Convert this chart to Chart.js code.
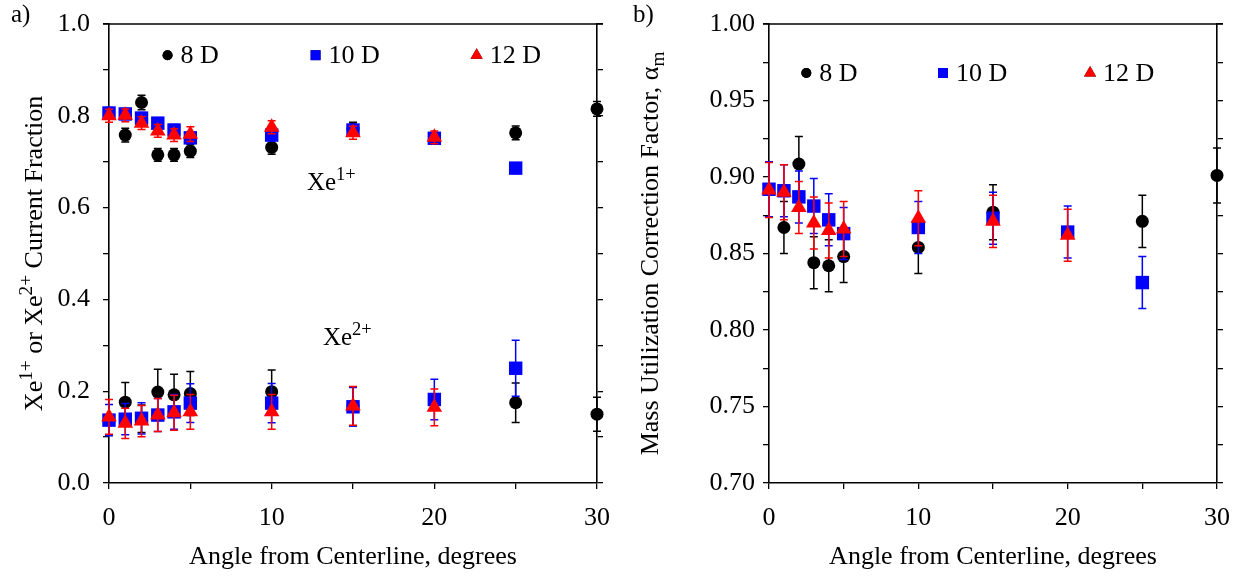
<!DOCTYPE html>
<html>
<head>
<meta charset="utf-8">
<script src="https://cdn.jsdelivr.net/npm/chart.js@4.4.0/dist/chart.umd.min.js"></script>
<style>
  html, body { margin: 0; background: #fff; overflow: hidden; }
  #wrap { position: relative; width: 1241px; height: 578px; overflow: hidden; }
  .panel { position: absolute; top: 0; height: 578px; }
  #pa { left: 0; width: 627px; }
  #pb { left: 620px; width: 627px; }
</style>
</head>
<body>
<div id="wrap">
  <div class="panel" id="pa"><canvas id="chartA"></canvas></div>
  <div class="panel" id="pb"><canvas id="chartB"></canvas></div>
</div>
<script>
// angles (degrees) where each series has a measurement
const angles8 = [1, 2, 3, 4, 5, 10, 15, 25, 30];
const angles10 = [0, 1, 2, 3, 4, 5, 10, 15, 20, 25];
const angles12 = [0, 1, 2, 3, 4, 5, 10, 15, 20];

// panel a) Xe1+ current fraction
const xe1_8D = [0.758, 0.829, 0.715, 0.715, 0.723, 0.731, 0.771, 0.763, 0.815];
const xe1_8D_err = [0.015, 0.016, 0.014, 0.014, 0.014, 0.015, 0.015, 0.015, 0.016];
const xe1_10D = [0.806, 0.804, 0.795, 0.784, 0.769, 0.752, 0.758, 0.769, 0.751, 0.686];
const xe1_10D_err = [0.012, 0.012, 0.012, 0.012, 0.012, 0.012, 0.012, 0.012, 0.012, 0.010];
const xe1_12D = [0.800, 0.801, 0.784, 0.767, 0.758, 0.760, 0.775, 0.763, 0.753];
const xe1_12D_err = [0.014, 0.014, 0.014, 0.014, 0.014, 0.016, 0.014, 0.014, 0.014];

// panel a) Xe2+ current fraction
const xe2_8D = [0.176, 0.140, 0.198, 0.192, 0.195, 0.199, 0.167, 0.175, 0.150];
const xe2_8D_err = [0.043, 0.030, 0.050, 0.045, 0.048, 0.047, 0.042, 0.043, 0.037];
const xe2_10D = [0.137, 0.139, 0.141, 0.148, 0.155, 0.174, 0.174, 0.166, 0.182, 0.250];
const xe2_10D_err = [0.034, 0.034, 0.034, 0.036, 0.038, 0.042, 0.043, 0.042, 0.044, 0.061];
const xe2_12D = [0.144, 0.130, 0.135, 0.148, 0.153, 0.155, 0.155, 0.168, 0.165];
const xe2_12D_err = [0.038, 0.033, 0.034, 0.036, 0.038, 0.038, 0.038, 0.042, 0.040];

// panel b) mass utilization correction factor
const alpha_8D = [0.867, 0.9085, 0.844, 0.842, 0.848, 0.854, 0.877, 0.871, 0.901];
const alpha_8D_err = [0.017, 0.018, 0.017, 0.017, 0.017, 0.017, 0.018, 0.017, 0.018];
const alpha_10D = [0.892, 0.891, 0.887, 0.881, 0.872, 0.863, 0.867, 0.873, 0.864, 0.831];
const alpha_10D_err = [0.018, 0.017, 0.017, 0.018, 0.017, 0.017, 0.017, 0.017, 0.017, 0.017];
const alpha_12D = [0.8915, 0.890, 0.880, 0.870, 0.865, 0.866, 0.873, 0.871, 0.862];
const alpha_12D_err = [0.018, 0.018, 0.017, 0.017, 0.018, 0.018, 0.018, 0.017, 0.017];

const seriesNames = ['8 D', '10 D', '12 D'];

const SERIF = "'Liberation Serif', 'Times New Roman', serif";
const BLACK = '#000000';
const BLUE = '#0000ff';
const RED = '#ff0000';

const styles = {
  '8 D': { color: BLACK, pointStyle: 'circle', radius: 6.5, order: 2 },
  '10 D': { color: BLUE, pointStyle: 'rect', radius: 9.5, order: 1 },
  '12 D': { color: RED, pointStyle: 'triangle', radius: 9, order: 0 }
};

function series(name, xs, ys, errs) {
  const st = styles[name];
  return {
    label: name,
    data: xs.map((x, i) => ({ x: x, y: ys[i] })),
    errors: errs,
    pointStyle: st.pointStyle,
    pointRadius: st.radius,
    pointBackgroundColor: st.color,
    pointBorderColor: st.color,
    pointBorderWidth: 0,
    order: st.order,
    clip: false,
    showLine: false
  };
}

// draws text made of normal / superscript / subscript pieces
function drawRich(ctx, parts, x, y, size, center) {
  const sz = p => (p.s ? size * 0.74 : size);
  const widths = parts.map(p => {
    ctx.font = sz(p) + 'px ' + SERIF;
    return ctx.measureText(p.t).width;
  });
  const total = widths.reduce((a, b) => a + b, 0);
  let cx = center ? x - total / 2 : x;
  parts.forEach((p, i) => {
    ctx.font = sz(p) + 'px ' + SERIF;
    let dy = 0;
    if (p.s === 'sup') dy = -size * 0.4;
    if (p.s === 'sub') dy = size * 0.22;
    ctx.fillText(p.t, cx, y + dy);
    cx += widths[i];
  });
}

const errorBars = {
  id: 'errorBars',
  beforeDatasetDraw(chart, args) {
    const ds = chart.data.datasets[args.index];
    if (!ds.errors) return;
    const ctx = chart.ctx;
    const xs = chart.scales.x, ys = chart.scales.y;
    ctx.save();
    ctx.strokeStyle = ds.pointBackgroundColor;
    ctx.lineWidth = 1.5;
    ds.data.forEach((p, i) => {
      const e = ds.errors[i];
      const px = xs.getPixelForValue(p.x);
      const top = ys.getPixelForValue(p.y + e);
      const bot = ys.getPixelForValue(p.y - e);
      ctx.beginPath();
      ctx.moveTo(px, top); ctx.lineTo(px, bot);
      ctx.moveTo(px - 4, top); ctx.lineTo(px + 4, top);
      ctx.moveTo(px - 4, bot); ctx.lineTo(px + 4, bot);
      ctx.stroke();
    });
    ctx.restore();
  }
};

function decorations(cfg) {
  return {
    id: 'deco',
    afterDraw(chart) {
      const ctx = chart.ctx;
      const a = chart.chartArea;
      const xs = chart.scales.x, ys = chart.scales.y;
      ctx.save();
      ctx.fillStyle = '#000';
      // top frame line
      ctx.strokeStyle = '#000';
      ctx.lineWidth = 1.6;
      ctx.beginPath();
      ctx.moveTo(a.left - 6, a.top);
      ctx.lineTo(a.right + 6, a.top);
      ctx.stroke();

      // panel letter
      ctx.textBaseline = 'middle';
      ctx.textAlign = 'left';
      ctx.font = '25px ' + SERIF;
      ctx.fillText(cfg.letter, cfg.letterX, 15);

      // x title
      ctx.textAlign = 'center';
      ctx.font = '26px ' + SERIF;
      ctx.fillText('Angle from Centerline, degrees', (a.left + a.right) / 2, cfg.xTitleY);

      // y title, rotated
      ctx.save();
      ctx.translate(cfg.yTitleX, (a.top + a.bottom) / 2);
      ctx.rotate(-Math.PI / 2);
      ctx.textAlign = 'left';
      ctx.textBaseline = 'alphabetic';
      drawRich(ctx, cfg.yTitle, 0, 0, 26, true);
      ctx.restore();

      // legend
      ctx.textAlign = 'left';
      ctx.textBaseline = 'middle';
      seriesNames.forEach((name, i) => {
        const st = styles[name];
        const px = xs.getPixelForValue(cfg.legendX[i]);
        const py = ys.getPixelForValue(cfg.legendY);
        Chart.helpers.drawPoint(ctx, {
          pointStyle: st.pointStyle,
          radius: st.pointStyle === 'circle' ? 5 : 7,
          borderWidth: 0
        }, px, py);
        ctx.fillStyle = st.color;
        ctx.fill();
        ctx.fillStyle = '#000';
        ctx.font = '26px ' + SERIF;
        ctx.fillText(name, px + 13, py + 1);
      });

      // text labels inside the plot
      ctx.textBaseline = 'alphabetic';
      (cfg.notes || []).forEach(n => {
        drawRich(ctx, n.parts, xs.getPixelForValue(n.x), ys.getPixelForValue(n.y), 25, false);
      });
      ctx.restore();
    }
  };
}

function axisOptions(yMin, yMax, yStep, yLabel, yw, yPad, rw) {
  const font = { family: SERIF, size: 26 };
  const yFont = { family: SERIF, size: 26, lineHeight: 0.7 };
  const grid = { drawOnChartArea: false, drawTicks: true, tickLength: 6, color: '#000', lineWidth: 1.3 };
  const border = { color: '#000', width: 1.6 };
  return {
    x: {
      type: 'linear', min: 0, max: 30, position: 'bottom',
      ticks: { stepSize: 5, autoSkip: false, maxRotation: 0, padding: 14, color: '#000', font: font,
        callback: v => (v % 10 === 0 ? String(v) : '') },
      grid: grid, border: border,
      afterFit: s => { s.height = 95; }
    },
    y: {
      type: 'linear', min: yMin, max: yMax, position: 'left',
      ticks: { stepSize: yStep, autoSkip: false, padding: yPad, color: '#000', font: yFont, callback: yLabel },
      grid: grid, border: border,
      afterFit: s => { s.width = yw; }
    },
    y2: {
      type: 'linear', min: yMin, max: yMax, position: 'right',
      ticks: { stepSize: yStep, autoSkip: false, padding: 0, color: '#000', font: yFont, callback: () => '' },
      grid: grid, border: border,
      afterFit: s => { s.width = rw; }
    }
  };
}

new Chart(document.getElementById('chartA'), {
  type: 'scatter',
  data: {
    datasets: [
      series('8 D', angles8, xe1_8D, xe1_8D_err),
      series('10 D', angles10, xe1_10D, xe1_10D_err),
      series('12 D', angles12, xe1_12D, xe1_12D_err),
      series('8 D', angles8, xe2_8D, xe2_8D_err),
      series('10 D', angles10, xe2_10D, xe2_10D_err),
      series('12 D', angles12, xe2_12D, xe2_12D_err)
    ]
  },
  options: {
    responsive: true,
    maintainAspectRatio: false,
    animation: false,
    events: [],
    layout: { padding: { top: 24, left: 0, right: 0, bottom: 0 } },
    plugins: { legend: { display: false }, tooltip: { enabled: false } },
    scales: axisOptions(0, 1, 0.1,
      v => (Math.round(v * 10) % 2 === 0 ? v.toFixed(1) : ''), 109, 13, 30)
  },
  plugins: [errorBars, decorations({
    letter: 'a)', letterX: 11, xTitleY: 557, yTitleX: 42,
    yTitle: [{ t: 'Xe' }, { t: '1+', s: 'sup' }, { t: ' or Xe' }, { t: '2+', s: 'sup' }, { t: ' Current Fraction' }],
    legendX: [3.6, 12.7, 22.6], legendY: 0.932,
    notes: [
      { x: 12.17, y: 0.638, parts: [{ t: 'Xe' }, { t: '1+', s: 'sup' }] },
      { x: 13.15, y: 0.300, parts: [{ t: 'Xe' }, { t: '2+', s: 'sup' }] }
    ]
  })]
});

new Chart(document.getElementById('chartB'), {
  type: 'scatter',
  data: {
    datasets: [
      series('8 D', angles8, alpha_8D, alpha_8D_err),
      series('10 D', angles10, alpha_10D, alpha_10D_err),
      series('12 D', angles12, alpha_12D, alpha_12D_err)
    ]
  },
  options: {
    responsive: true,
    maintainAspectRatio: false,
    animation: false,
    events: [],
    layout: { padding: { top: 24, left: 0, right: 0, bottom: 0 } },
    plugins: { legend: { display: false }, tooltip: { enabled: false } },
    scales: axisOptions(0.7, 1.0, 0.025,
      v => (Math.round(v * 1000) % 50 === 0 ? v.toFixed(2) : ''), 149, 8, 30)
  },
  plugins: [errorBars, decorations({
    letter: 'b)', letterX: 13, xTitleY: 557, yTitleX: 38,
    yTitle: [{ t: 'Mass Utilization Correction Factor, α' }, { t: 'm', s: 'sub' }],
    legendX: [2.5, 11.65, 21.5], legendY: 0.968
  })]
});
</script>
</body>
</html>
